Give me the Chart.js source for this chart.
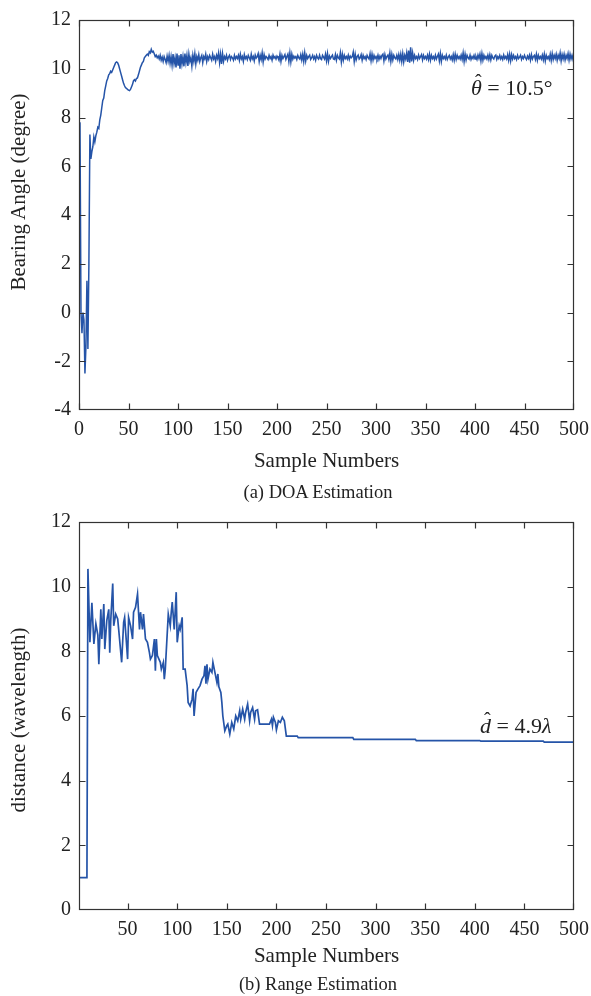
<!DOCTYPE html>
<html><head><meta charset="utf-8">
<script src="https://cdn.jsdelivr.net/npm/chart.js@4"></script>
<style>
body{margin:0;background:#fff;width:591px;height:996px;position:relative;overflow:hidden;font-family:"Liberation Serif",serif;color:#222}
.c{position:absolute;left:0;width:591px;height:480px}
.cap{position:absolute;font-size:18.5px;white-space:nowrap;transform:translate(-50%,-50%)}
.yt{position:absolute;font-size:21px;white-space:nowrap;transform:translate(-50%,-50%) rotate(-90deg)}
.ann{position:absolute;font-size:22px;white-space:nowrap;line-height:1}
.hat{position:relative;display:inline-block}
.hat .h{position:absolute;left:4px;top:-5px;font-style:normal;font-size:20px}
</style></head><body>
<div class="c" style="top:0"><canvas id="c1" width="591" height="480"></canvas></div>
<div class="c" style="top:500px"><canvas id="c2" width="591" height="480"></canvas></div>
<div class="yt" style="left:18px;top:192px">Bearing Angle (degree)</div>
<div class="yt" style="left:18px;top:720px">distance (wavelength)</div>
<div class="cap" style="left:318px;top:492px">(a) DOA Estimation</div>
<div class="cap" style="left:318px;top:984px">(b) Range Estimation</div>
<div class="ann" style="left:471px;top:77px"><span class="hat"><i>θ</i><span class="h">ˆ</span></span> = 10.5°</div>
<div class="ann" style="left:480px;top:715px"><span class="hat"><i>d</i><span class="h">ˆ</span></span> = 4.9<i>λ</i></div>
<script>
// ---- Data ----
const xTicksTop = [0,50,100,150,200,250,300,350,400,450,500];
const yTicksTop = [-4,-2,0,2,4,6,8,10,12];
const xTicksBottom = [50,100,150,200,250,300,350,400,450,500];
const yTicksBottom = [0,2,4,6,8,10,12];

// Bearing angle estimate per sample (samples 1..500)
const bearingAngle = [
7.8,0.0,-0.85,0.0,-0.3,-2.5,-1.4,1.3,-1.5,2.0,
7.3,6.3,6.6,6.8,7.2,7.0,7.25,7.4,7.6,7.55,
7.9,8.1,8.4,8.7,8.8,9.1,9.3,9.5,9.6,9.75,
9.8,9.9,9.85,9.95,10.05,10.15,10.25,10.28,10.25,10.15,
10.0,9.85,9.7,9.55,9.4,9.3,9.22,9.2,9.15,9.12,
9.1,9.15,9.25,9.35,9.5,9.55,9.5,9.6,9.62,9.75,
9.9,10.05,10.15,10.25,10.3,10.45,10.5,10.55,10.6,10.55,
10.7,10.65,10.8,10.68,10.72,10.62,10.5,10.56,10.45,10.52,
10.4,10.55,10.35,10.48,10.3,10.5,10.38,10.25,10.52,10.3,
10.55,10.22,10.5,10.15,10.6,10.2,10.45,10.05,10.62,10.15,
10.55,10.0,10.6,10.2,10.5,10.1,10.62,10.25,10.55,10.12,
10.6,10.3,10.45,10.1,10.55,10.3,10.62,10.2,10.5,10.35,
10.58,10.3,10.45,10.55,10.25,10.5,10.4,10.6,10.3,10.5,
10.38,10.55,10.45,10.35,10.6,10.4,10.5,10.3,10.55,10.42,
10.65,10.25,10.6,10.2,10.62,10.3,10.5,10.4,10.55,10.35,
10.48,10.55,10.38,10.5,10.45,10.35,10.55,10.4,10.5,10.42,
10.55,10.35,10.6,10.4,10.5,10.3,10.58,10.42,10.5,10.38,
10.55,10.45,10.35,10.6,10.4,10.5,10.32,10.56,10.44,10.5,
10.62,10.3,10.55,10.38,10.65,10.28,10.58,10.4,10.5,10.45,
10.38,10.55,10.42,10.5,10.35,10.56,10.44,10.5,10.4,10.52,
10.45,10.35,10.6,10.3,10.55,10.42,10.5,10.58,10.38,10.5,
10.6,10.3,10.65,10.28,10.6,10.4,10.52,10.44,10.5,10.38,
10.55,10.45,10.4,10.58,10.36,10.6,10.3,10.65,10.32,10.55,
10.42,10.5,10.56,10.38,10.45,10.55,10.4,10.5,10.35,10.55,
10.45,10.4,10.56,10.42,10.38,10.55,10.48,10.4,10.6,10.32,
10.62,10.3,10.52,10.42,10.5,10.56,10.4,10.38,10.58,10.35,
10.55,10.45,10.4,10.66,10.28,10.6,10.35,10.55,10.42,10.5,
10.4,10.56,10.38,10.52,10.45,10.5,10.68,10.3,10.6,10.36,
10.5,10.56,10.4,10.45,10.58,10.35,10.55,10.42,10.5,10.38,
10.55,10.46,10.4,10.62,10.32,10.6,10.36,10.55,10.42,10.5,
10.4,10.56,10.38,10.52,10.42,10.55,10.6,10.32,10.58,10.4,
10.5,10.56,10.38,10.65,10.3,10.6,10.36,10.55,10.45,10.4,
10.55,10.38,10.58,10.35,10.6,10.3,10.62,10.28,10.55,10.4,
10.65,10.28,10.75,10.25,10.88,10.3,10.65,10.35,10.55,10.42,
10.5,10.38,10.56,10.42,10.5,10.58,10.36,10.55,10.42,10.5,
10.4,10.56,10.38,10.6,10.35,10.55,10.42,10.5,10.38,10.56,
10.4,10.5,10.6,10.32,10.62,10.3,10.55,10.42,10.5,10.4,
10.56,10.38,10.48,10.55,10.4,10.5,10.36,10.58,10.35,10.6,
10.38,10.55,10.42,10.5,10.4,10.56,10.38,10.65,10.3,10.6,
10.36,10.55,10.45,10.4,10.56,10.38,10.5,10.42,10.55,10.4,
10.5,10.38,10.56,10.42,10.6,10.32,10.62,10.35,10.55,10.42,
10.5,10.4,10.56,10.38,10.58,10.36,10.55,10.45,10.4,10.52,
10.56,10.38,10.5,10.42,10.55,10.4,10.5,10.38,10.56,10.42,
10.5,10.4,10.58,10.35,10.6,10.32,10.58,10.4,10.55,10.42,
10.5,10.38,10.55,10.42,10.48,10.56,10.38,10.5,10.42,10.55,
10.45,10.38,10.52,10.42,10.56,10.35,10.58,10.4,10.5,10.55,
10.38,10.6,10.35,10.55,10.42,10.5,10.4,10.56,10.36,10.6,
10.32,10.55,10.42,10.5,10.38,10.6,10.34,10.62,10.38,10.55,
10.42,10.6,10.35,10.55,10.42,10.65,10.32,10.58,10.4,10.6,
10.36,10.55,10.42,10.62,10.35,10.6,10.4,10.55,10.38,10.62
];

// Range estimate: sample numbers and values
const rangeSamples = [1,9,10,12,14,16,18,20,21,23,24,26,27,29,31,32,33,35,36,38,40,41,44,46,47,50,51,53,55,56,58,60,62,63,65,66,68,70,72,73,75,77,78,79,80,83,84,86,87,88,89,91,93,94,95,97,99,100,102,103,105,106,108,110,111,113,115,116,117,119,121,123,125,127,128,129,130,131,133,135,136,138,140,141,142,144,145,146,148,150,151,153,155,156,157,159,161,163,164,166,168,169,171,173,174,176,178,179,181,183,193,195,196,197,199,200,202,204,206,208,210,221,222,277,278,340,341,405,406,469,470,500];
const rangeValues = [1.0,1.0,10.55,8.28,9.5,8.23,8.85,8.5,7.6,9.3,8.38,9.46,8.07,8.95,9.3,7.96,8.95,10.1,8.79,9.15,9.0,8.68,7.66,8.9,9.05,7.76,9.05,8.79,8.38,9.21,9.36,9.77,8.68,9.21,8.68,9.15,8.38,8.28,7.96,7.76,7.87,8.38,7.4,8.38,7.87,7.66,7.45,7.66,7.14,7.45,8.02,9.15,8.79,9.21,9.52,8.68,9.83,8.28,8.79,8.68,9.05,7.45,7.45,6.94,6.42,6.31,6.52,6.84,6.0,6.73,6.84,6.94,7.14,7.25,7.55,7.0,7.6,7.14,7.45,7.35,7.66,7.35,7.04,7.3,6.9,6.73,6.42,6.0,5.54,5.7,5.75,5.44,5.8,5.7,5.6,6.0,5.85,6.16,5.9,6.21,5.9,6.11,6.37,5.85,6.11,6.26,5.9,6.16,6.19,5.75,5.75,5.9,5.7,5.96,5.8,5.57,5.85,5.8,5.96,5.85,5.38,5.38,5.33,5.33,5.28,5.28,5.24,5.24,5.22,5.22,5.19,5.19];

// ---- Styling ----
const LINE = '#2554a8';
const AXIS = '#333';
Chart.defaults.font.family = '"Liberation Serif", "Times New Roman", serif';
Chart.defaults.font.size = 20;
Chart.defaults.color = '#222';

const frame = {
  id: 'frame',
  afterDraw(chart) {
    const {ctx, chartArea: a, scales: {x, y}} = chart;
    const L = Math.round(a.left) + 0.5, R = Math.round(a.right) - 0.5;
    const T = Math.round(a.top) + 0.5, B = Math.round(a.bottom) - 0.5;
    const clamp = (v, lo, hi) => Math.min(hi, Math.max(lo, v));
    ctx.save();
    ctx.strokeStyle = AXIS;
    ctx.lineWidth = 1.2;
    ctx.strokeRect(L, T, R - L, B - T);
    const len = 6;
    ctx.beginPath();
    x.ticks.forEach(t => {
      const p = clamp(Math.round(x.getPixelForValue(t.value)) + 0.5, L, R);
      ctx.moveTo(p, B); ctx.lineTo(p, B - len);
      ctx.moveTo(p, T); ctx.lineTo(p, T + len);
    });
    y.ticks.forEach(t => {
      const p = clamp(Math.round(y.getPixelForValue(t.value)) + 0.5, T, B);
      ctx.moveTo(L, p); ctx.lineTo(L + len, p);
      ctx.moveTo(R, p); ctx.lineTo(R - len, p);
    });
    ctx.stroke();
    ctx.restore();
  }
};

function makeChart(id, points, xTicks, yTicks, xmin, ymin, ymax, topPad, xTitlePadBottom, lw) {
  return new Chart(document.getElementById(id), {
    type: 'line',
    data: { datasets: [{ data: points, borderColor: LINE, borderWidth: lw, pointRadius: 0, tension: 0, fill: false }] },
    options: {
      responsive: false, animation: false,
      layout: { padding: { top: topPad, right: 17, left: 0, bottom: 0 } },
      plugins: { legend: { display: false }, tooltip: { enabled: false } },
      scales: {
        x: {
          type: 'linear', min: xmin, max: 500,
          grid: { display: false, drawTicks: false }, border: { display: false },
          ticks: { padding: 8, autoSkip: false, maxRotation: 0 },
          afterBuildTicks: s => { s.ticks = xTicks.map(v => ({ value: v })); },
          afterFit: s => { s.height = 70; s.paddingLeft = 0; s.paddingRight = 0; },
          title: { display: true, text: 'Sample Numbers', font: { size: 21 }, padding: { top: 0, bottom: xTitlePadBottom } }
        },
        y: {
          type: 'linear', min: ymin, max: ymax,
          grid: { display: false, drawTicks: false }, border: { display: false },
          ticks: { padding: 8 },
          afterBuildTicks: s => { s.ticks = yTicks.map(v => ({ value: v })); },
          afterFit: s => { s.width = 79; s.paddingTop = 0; s.paddingBottom = 0; }
        }
      }
    },
    plugins: [frame]
  });
}

makeChart('c1', bearingAngle.map((v, i) => ({ x: i + 1, y: v })), xTicksTop, yTicksTop, 0, -4, 12, 20, 6, 1.5);
makeChart('c2', rangeSamples.map((s, i) => ({ x: s, y: rangeValues[i] })), xTicksBottom, yTicksBottom, 1, 0, 12, 22, 11, 1.7);
</script>
</body></html>
